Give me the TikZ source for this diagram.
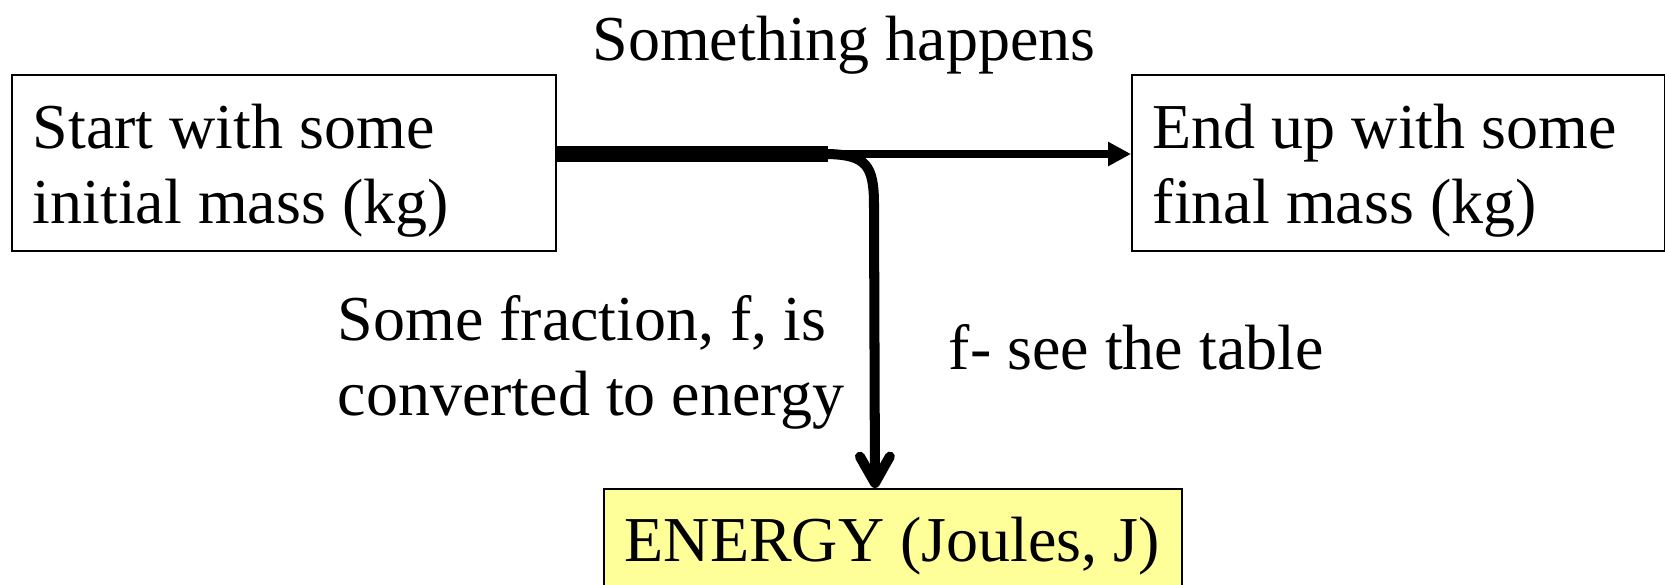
\documentclass[tikz,border=0pt]{standalone}
\usepackage{fontspec}
\setmainfont{Liberation Serif}
\usetikzlibrary{arrows.meta}
\definecolor{energyfill}{HTML}{FFFF99}
\newcommand\bigtxt{\fontsize{18.2pt}{21.6pt}\selectfont}
\begin{document}
\begin{tikzpicture}[x=0.01cm,y=-0.01cm,
  box/.style={draw=black, line width=0.5pt, inner sep=0pt, anchor=north west},
  txt/.style={inner sep=0pt, anchor=base west, font=\bigtxt},
  thickflow/.style={line width=4.6pt},
  thinflow/.style={line width=2.1pt, -{Triangle[length=6.5pt,width=6.5pt]}},
  downflow/.style={line width=2.85pt, -{Straight Barb[length=7.5pt,width=8.5pt,round]}}
]
\useasboundingbox (0,0) rectangle (1665,584);
\node[box, minimum width=5.44cm, minimum height=1.76cm] (start) at (11,74) {};
\node[box, minimum width=5.33cm, minimum height=1.76cm] (end) at (1131,74) {};
\node[box, fill=energyfill, minimum width=5.78cm, minimum height=1.0cm] (energy) at (603,488) {};

\node[txt] (starttxt) at (32,148) {\begin{tabular}[t]{@{}l@{}}Start with some\\initial mass (kg)\end{tabular}};
\node[txt] (endtxt) at (1152,148) {\begin{tabular}[t]{@{}l@{}}End up with some\\final mass (kg)\end{tabular}};
\node[txt] (energytxt) at (624,561) {ENERGY (Joules, J)};
\node[txt, anchor=base] (title) at (844,60) {Something happens};
\node[txt] (frac) at (337,340) {\begin{tabular}[t]{@{}l@{}}Some fraction, f, is\\converted to energy\end{tabular}};
\node[txt] (ftable) at (948,369) {f- see the table};

\coordinate (j) at (828,154);
\coordinate (etip) at (875,0);
\draw[thickflow] (start.east |- j) -- (j);
\draw[thinflow] (j) -- (end.west |- j);
\draw[downflow] (j) .. controls (866,155) and (874,165) .. (874,205) -- (etip |- energy.north);
\end{tikzpicture}
\end{document}
